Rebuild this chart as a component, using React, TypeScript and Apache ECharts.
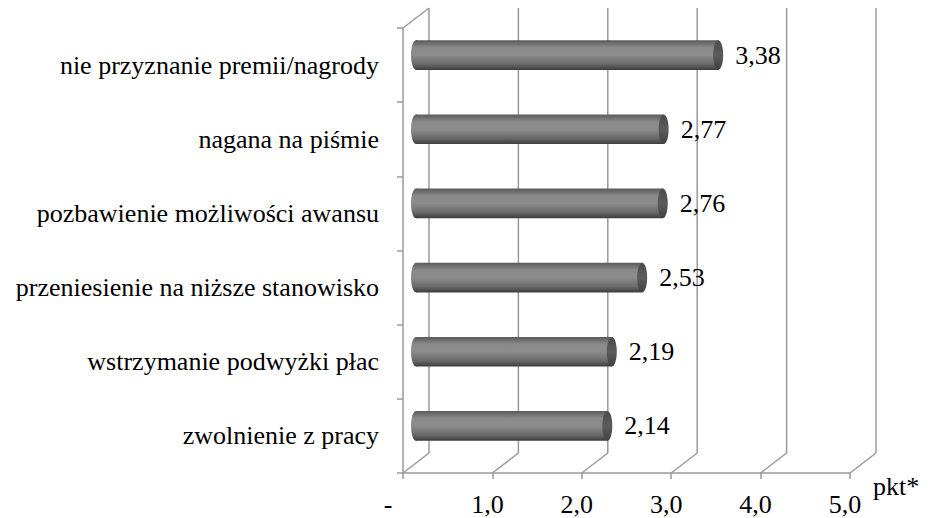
import React, { useEffect, useRef } from "react";
import * as echarts from "echarts";

const categories = [
  "nie przyznanie premii/nagrody",
  "nagana na piśmie",
  "pozbawienie możliwości awansu",
  "przeniesienie na niższe stanowisko",
  "wstrzymanie podwyżki płac",
  "zwolnienie z pracy",
];
const values = [3.38, 2.77, 2.76, 2.53, 2.19, 2.14];
const xTicks = [0, 1, 2, 3, 4, 5];
const axisName = "pkt*";

const FONT = "Liberation Serif";
const LINE = "#9a9a9a";
const DEPTH_X = 26;
const DEPTH_Y = -20;

export default function App() {
  const ref = useRef<HTMLDivElement>(null);
  useEffect(() => {
    if (!ref.current) return;
    const chart = echarts.init(ref.current, undefined, { renderer: "svg" });
    const fmt = (v: number, d: number) => v.toFixed(d).replace(".", ",");
    chart.setOption({
      animation: false,
      backgroundColor: "#ffffff",
      textStyle: { fontFamily: FONT },
      grid: { left: 403, top: 28, width: 447, height: 445, containLabel: false, outerBoundsMode: "none" },
      xAxis: {
        type: "value",
        min: 0,
        max: 5,
        interval: 1,
        name: axisName,
        nameLocation: "end",
        nameGap: 23,
        nameTextStyle: { fontFamily: FONT, fontSize: 26, color: "#000", verticalAlign: "top" },
        axisLine: { show: true, lineStyle: { color: LINE, width: 1.5 } },
        axisTick: { show: true, length: 6, lineStyle: { color: LINE, width: 1.5 } },
        splitLine: { show: false },
        axisLabel: {
          margin: 18,
          fontFamily: FONT,
          fontSize: 26,
          color: "#000",
          formatter: (v: number) => (v === 0 ? "{d|-}" : "{n|" + fmt(v, 1) + "}"),
          rich: {
            n: { fontFamily: FONT, fontSize: 26, color: "#000", padding: [0, 10, 0, 0] },
            d: { fontFamily: FONT, fontSize: 26, color: "#000", padding: [0, 30, 0, 0] },
          },
        },
      },
      yAxis: {
        type: "category",
        data: categories,
        inverse: true,
        axisLine: { show: true, lineStyle: { color: LINE, width: 1.5 } },
        axisTick: { show: true, length: 6, lineStyle: { color: LINE, width: 1.5 } },
        splitLine: { show: false },
        axisLabel: { fontFamily: FONT, fontSize: 26, color: "#000", margin: 24 },
      },
      series: [
        {
          type: "custom",
          silent: true,
          z: 1,
          data: [[0, 0]],
          renderItem: (params: any, api: any) => {
            const cs = params.coordSys;
            const top = cs.y;
            const bottom = cs.y + cs.height;
            const children: any[] = [];
            const ls = { stroke: LINE, lineWidth: 1.5, fill: null };
            xTicks.forEach((k) => {
              const x = api.coord([k, 0])[0];
              children.push({
                type: "line",
                shape: { x1: x + DEPTH_X, y1: top + DEPTH_Y, x2: x + DEPTH_X, y2: bottom + DEPTH_Y },
                style: ls,
              });
              children.push({
                type: "line",
                shape: { x1: x, y1: bottom, x2: x + DEPTH_X, y2: bottom + DEPTH_Y },
                style: ls,
              });
            });
            const x0 = api.coord([0, 0])[0];
            children.push({
              type: "line",
              shape: { x1: x0, y1: top, x2: x0 + DEPTH_X, y2: top + DEPTH_Y },
              style: ls,
            });
            return { type: "group", children };
          },
        },
        {
          type: "custom",
          z: 5,
          data: values.map((v, i) => [v, i]),
          encode: { x: 0, y: 1 },
          renderItem: (params: any, api: any) => {
            const v = api.value(0);
            const idx = api.value(1);
            const s = api.coord([0, idx]);
            const e = api.coord([v, idx]);
            const h = api.size([0, 1])[1] * 0.4;
            const dx = DEPTH_X / 2;
            const dy = DEPTH_Y / 2;
            const x0 = s[0] + dx;
            const x1 = e[0] + dx;
            const cy = s[1] + dy;
            const rx = 5;
            const grad = new echarts.graphic.LinearGradient(0, 0, 0, 1, [
              { offset: 0, color: "#5a5a5a" },
              { offset: 0.25, color: "#8a8a8a" },
              { offset: 0.5, color: "#8c8c8c" },
              { offset: 0.8, color: "#6a6a6a" },
              { offset: 1, color: "#3c3c3c" },
            ]);
            const capGrad = new echarts.graphic.LinearGradient(0, 0, 0, 1, [
              { offset: 0, color: "#4a4a4a" },
              { offset: 0.5, color: "#5c5c5c" },
              { offset: 1, color: "#404040" },
            ]);
            return {
              type: "group",
              children: [
                { type: "ellipse", shape: { cx: x0, cy, rx, ry: h / 2 }, style: { fill: grad } },
                { type: "rect", shape: { x: x0, y: cy - h / 2, width: x1 - x0, height: h }, style: { fill: grad } },
                { type: "ellipse", shape: { cx: x1, cy, rx, ry: h / 2 }, style: { fill: capGrad } },
                {
                  type: "text",
                  x: x1 + rx + 12,
                  y: cy,
                  style: {
                    text: fmt(v, 2),
                    fontFamily: FONT,
                    fontSize: 26,
                    fill: "#000",
                    verticalAlign: "middle",
                    align: "left",
                  },
                },
              ],
            };
          },
        },
      ],
    });
    return () => chart.dispose();
  }, []);
  return (
    <div
      ref={ref}
      style={{ position: "fixed", left: 0, top: 0, width: 932, height: 518, background: "#fff" }}
    />
  );
}
